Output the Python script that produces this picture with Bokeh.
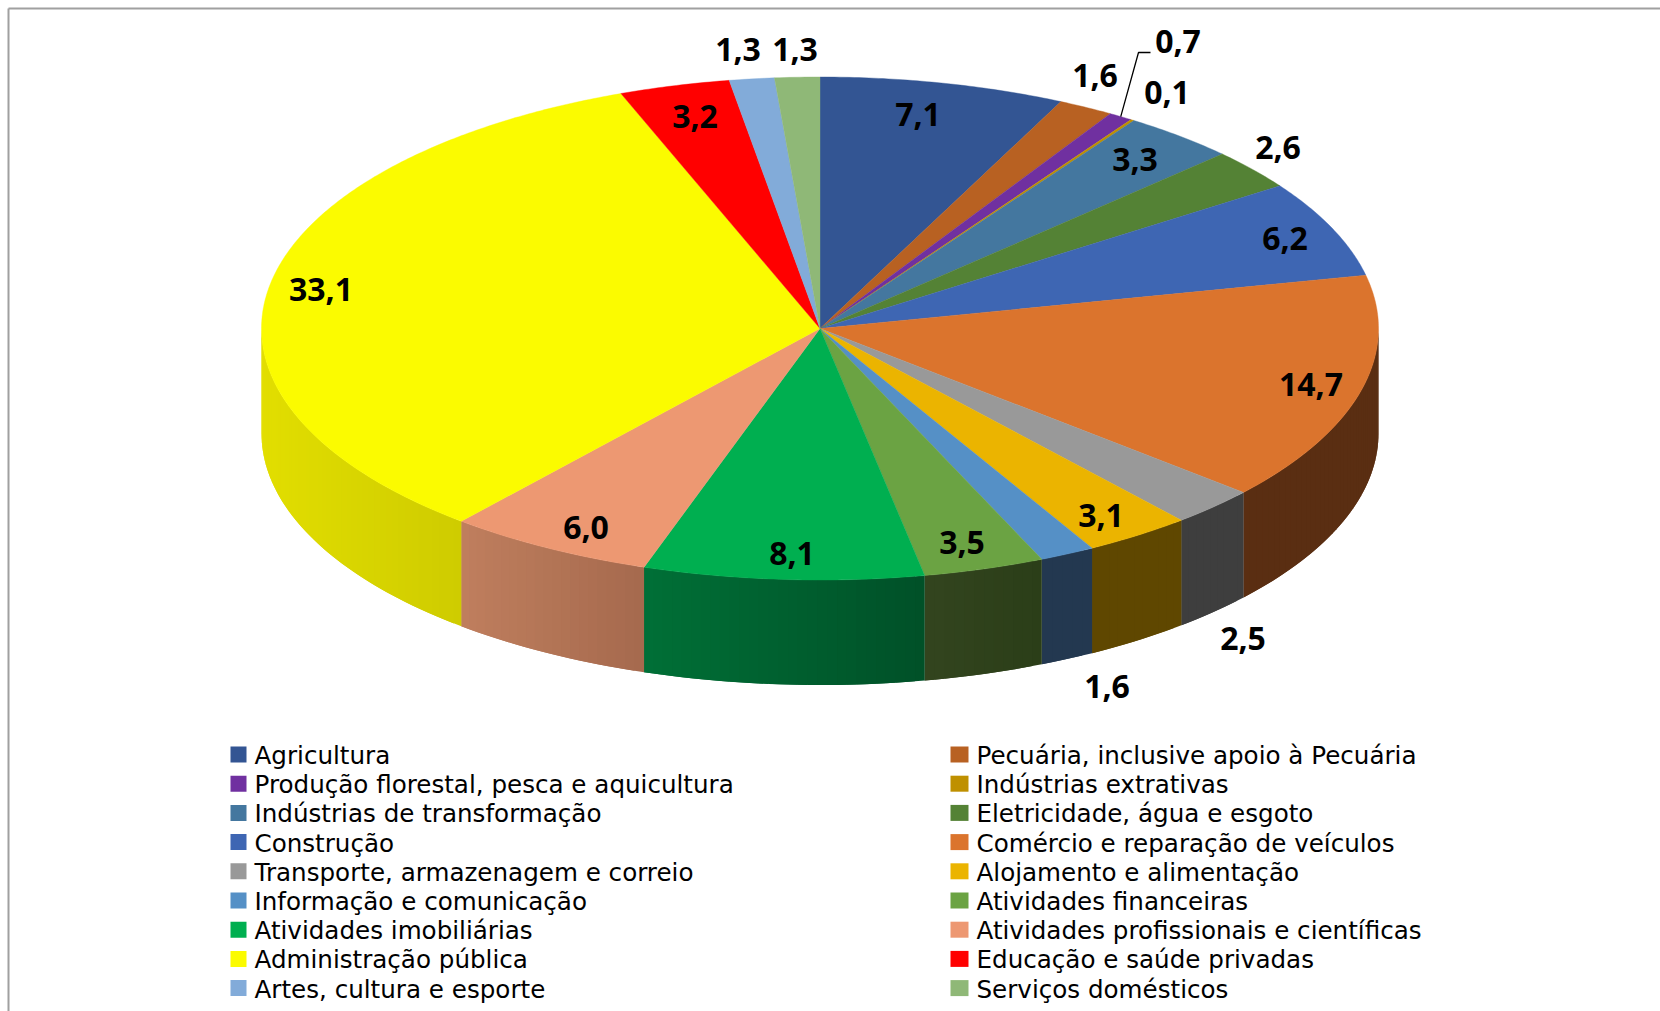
from math import sin, cos, pi
from bokeh.plotting import figure
from bokeh.embed import file_html
from bokeh.resources import INLINE
from bokeh.core.properties import value

categories = ["Agricultura", "Pecuária, inclusive apoio à Pecuária",
              "Produção florestal, pesca e aquicultura", "Indústrias extrativas",
              "Indústrias de transformação", "Eletricidade, água e esgoto",
              "Construção", "Comércio e reparação de veículos",
              "Transporte, armazenagem e correio", "Alojamento e alimentação",
              "Informação e comunicação", "Atividades financeiras",
              "Atividades imobiliárias", "Atividades profissionais e científicas",
              "Administração  pública", "Educação e saúde privadas",
              "Artes, cultura e esporte", "Serviços domésticos"]
shares = [7.1, 1.6, 0.7, 0.1, 3.3, 2.6, 6.2, 14.7, 2.5, 3.1, 1.6, 3.5, 8.1, 6.0, 33.1, 3.2, 1.3, 1.3]
share_labels = ["7,1", "1,6", "0,7", "0,1", "3,3", "2,6", "6,2", "14,7", "2,5", "3,1", "1,6",
                "3,5", "8,1", "6,0", "33,1", "3,2", "1,3", "1,3"]
top_colors = ["#335593", "#B86122", "#7030A0", "#BF9000", "#44779F", "#548235", "#3E66B3",
              "#DB742D", "#999999", "#EBB400", "#5590C6", "#6BA343", "#00AF50", "#ED9872",
              "#FBFB00", "#FF0000", "#82ABD9", "#8FB877"]
wall_left = ["#1F3358", "#6E3A14", "#431D60", "#735700", "#294760", "#324E20", "#25406B",
             "#5A2E12", "#3E3E3E", "#5F4700", "#233850", "#33451F", "#007037", "#C07F5E",
             "#E2DE00", "#990000", "#4E6782", "#566E47"]
wall_right = ["#1F3358", "#6E3A14", "#431D60", "#735700", "#294760", "#324E20", "#25406B",
              "#5A2E12", "#3E3E3E", "#5F4700", "#233850", "#2B3E18", "#005128", "#A66A4E",
              "#CFCC00", "#990000", "#4E6782", "#566E47"]

CX, CY, RX, RY, DEPTH = 819.5, 328.0, 558.5, 251.5, 105.0
LABEL_SIZE, LEGEND_SIZE = "32px", "24.6px"
LABEL_FONT, LEGEND_FONT = "Open Sans", "DejaVu Sans"
# label centre offsets from the pie centre, px
label_dx = [98, 275, 358, 347, 315, 458, 465, 491, 423, 281, 287, 142, -28, -234, -499, -125, -82, -25]
label_dy = [-214, -253, -287, -236, -169, -181, -90, 56, 310, 187, 358, 214, 225, 199, -39, -212, -279, -279]

W, H = 1660, 1011
p = figure(width=W, height=H, x_range=(0, W), y_range=(H, 0), output_backend="svg",
           toolbar_location=None, min_border=0, outline_line_color=None, background_fill_color="white")
p.axis.visible = False
p.grid.visible = False


def rgb(h):
    return [int(h[i:i + 2], 16) for i in (1, 3, 5)]


def mix(a, b, t):
    ca, cb = rgb(a), rgb(b)
    return "#%02x%02x%02x" % tuple(round(x + (y - x) * t) for x, y in zip(ca, cb))


def ex(t):
    return CX + RX * sin(t)


def ey(t):
    return CY - RY * cos(t)


# frame
p.line([8, 8], [8, H], line_color="#A0A0A0", line_width=2)
p.line([8, W], [8, 8], line_color="#A0A0A0", line_width=2)

total = sum(shares)
start = 0.0
for v, wl, wr in zip(shares, wall_left, wall_right):
    end = start + v / total * 2 * pi
    # front wall: overlapping strips (drawn right to left) carry the shading
    a, b = max(start, pi / 2), min(end, 3 * pi / 2)
    if a < b:
        n = max(2, int((b - a) / (pi / 180)))
        xl, xr = ex(b), ex(a)
        for i in range(n):
            t0 = a + (b - a) * i / n
            t1 = min(b, a + (b - a) * (i + 2) / n)
            x = [ex(t0), ex(t1), ex(t1), ex(t0)]
            y = [ey(t0), ey(t1), ey(t1) + DEPTH, ey(t0) + DEPTH]
            f = (ex(t0) - xl) / (xr - xl) if xr > xl else 0
            p.patch(x, y, fill_color=mix(wl, wr, f), line_color=None)
    start = end

start = 0.0
for v, top in zip(shares, top_colors):
    end = start + v / total * 2 * pi
    n = max(3, int((end - start) / (pi / 360)))
    ts = [start + (end - start) * i / n for i in range(n + 1)]
    x = [CX] + [ex(t) for t in ts]
    y = [CY] + [ey(t) for t in ts]
    p.patch(x, y, fill_color=top, line_color=top, line_width=0.4)
    start = end

# leader line for 0,7
lead_t = (sum(shares[:2]) + shares[2] / 2) / total * 2 * pi
p.line([ex(lead_t), 1138, 1150], [ey(lead_t), 52, 52], line_color="black", line_width=1.3)

p.text([CX + d for d in label_dx], [CY + d for d in label_dy], text=share_labels,
       text_font=value(LABEL_FONT), text_font_style="bold", text_font_size=LABEL_SIZE,
       text_align="center", text_baseline="middle", text_color="black")

# legend: two columns, filled row by row
ROW0, PITCH = 754.0, 29.2
for i, (name, c) in enumerate(zip(categories, top_colors)):
    col, row = i % 2, i // 2
    yc = ROW0 + PITCH * row
    x0, x1, tx = (230, 246, 254) if col == 0 else (950, 968, 976)
    p.quad(left=[x0], right=[x1], top=[yc - 8], bottom=[yc + 8], fill_color=c, line_color=None)
    p.text([tx], [yc + 1], text=[name], text_font=value(LEGEND_FONT), text_font_size=LEGEND_SIZE,
           text_align="left", text_baseline="middle", text_color="black")

open("out.html", "w").write(file_html(p, INLINE))
